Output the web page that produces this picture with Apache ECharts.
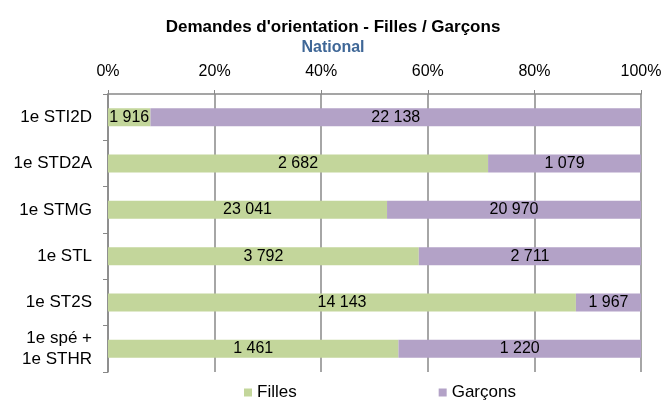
<!DOCTYPE html>
<html>
<head>
<meta charset="utf-8">
<script src="https://cdn.jsdelivr.net/npm/echarts@6/dist/echarts.min.js"></script>
<style>
  html, body { margin: 0; padding: 0; background: #fff; }
  #chart { width: 666px; height: 406px; }
</style>
</head>
<body>
<div id="chart"></div>
<script>
// filières (du haut vers le bas)
var categories = ['1e STI2D', '1e STD2A', '1e STMG', '1e STL', '1e ST2S', '1e spé +\n1e STHR'];
var filles = [1916, 2682, 23041, 3792, 14143, 1461];
var garcons = [22138, 1079, 20970, 2711, 1967, 1220];
var xTicks = [0, 20, 40, 60, 80, 100];

function fmtNum(n) {
    return String(n).replace(/\B(?=(\d{3})+(?!\d))/g, ' ');
}

function toPct(counts, other) {
    var out = [];
    for (var i = 0; i < counts.length; i++) {
        out.push({ value: counts[i] / (counts[i] + other[i]) * 100, raw: counts[i] });
    }
    return out;
}

var chart = echarts.init(document.getElementById('chart'));
var lbl = {
    show: true,
    position: 'inside',
    color: '#000',
    fontSize: 16,
    fontFamily: 'Liberation Sans',
    formatter: function (p) { return fmtNum(p.data.raw); }
};

var option = {
    animation: false,
    textStyle: { fontFamily: 'Liberation Sans' },
    title: {
        text: "Demandes d'orientation - Filles / Garçons",
        subtext: 'National',
        left: 'center',
        top: 14,
        itemGap: 4,
        textStyle: { fontSize: 17, fontWeight: 'bold', color: '#000', fontFamily: 'Liberation Sans' },
        subtextStyle: { fontSize: 16, fontWeight: 'bold', color: '#3F6797', fontFamily: 'Liberation Sans' }
    },
    legend: {
        bottom: 0,
        left: 239,
        itemWidth: 8,
        itemHeight: 8,
        itemGap: 142,
        icon: 'rect',
        textStyle: { fontSize: 17, color: '#000', fontFamily: 'Liberation Sans' },
        data: ['Filles', 'Garçons']
    },
    grid: { left: 108, right: 25, top: 94, bottom: 34 },
    xAxis: {
        type: 'value',
        position: 'top',
        min: xTicks[0],
        max: xTicks[xTicks.length - 1],
        interval: 20,
        axisLine: { show: true, lineStyle: { color: '#888', width: 1.5 } },
        axisTick: { show: true, length: 4, lineStyle: { color: '#888' } },
        splitLine: { show: true, lineStyle: { color: '#888', width: 1.5 } },
        axisLabel: { formatter: '{value}%', fontSize: 16, color: '#000', margin: 14 }
    },
    yAxis: {
        type: 'category',
        inverse: true,
        data: categories,
        axisLine: { show: true, lineStyle: { color: '#888', width: 1.5 } },
        axisTick: { show: true, length: 5, lineStyle: { color: '#888' } },
        axisLabel: { fontSize: 17, color: '#000', margin: 16, lineHeight: 21 }
    },
    series: [
        {
            name: 'Filles',
            type: 'bar',
            stack: 'total',
            barWidth: 18,
            itemStyle: { color: '#C3D69B' },
            label: lbl,
            data: toPct(filles, garcons)
        },
        {
            name: 'Garçons',
            type: 'bar',
            stack: 'total',
            barWidth: 18,
            itemStyle: { color: '#B3A2C7' },
            label: lbl,
            data: toPct(garcons, filles)
        }
    ]
};
chart.setOption(option);
</script>
</body>
</html>
